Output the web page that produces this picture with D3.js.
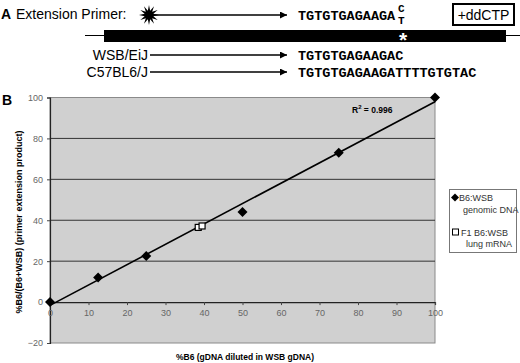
<!DOCTYPE html>
<html>
<head>
<meta charset="utf-8">
<script src="https://cdn.jsdelivr.net/npm/d3@7"></script>
<style>
  body { margin: 0; background: #fff; }
  svg { display: block; font-family: Arial, "Liberation Sans", sans-serif; }
</style>
</head>
<body>
<div id="chart"></div>
<script>
// panel B data
const genomicX = [0, 12.5, 25, 50, 75, 100];
const genomicY = [0, 12, 22.5, 44, 73, 100];
const mrnaX = [38.5, 39.5];
const mrnaY = [36.5, 37.2];
const xTicks = [0, 10, 20, 30, 40, 50, 60, 70, 80, 90, 100];
const yTicks = [-20, 0, 20, 40, 60, 80, 100];
const gridY = [20, 40, 60, 80];
const rSquared = "0.996";

// panel A sequences
const primerSeq = "TGTGTGAGAAGA";
const strainNames = ["WSB/EiJ", "C57BL6/J"];
const strainSeqs = ["TGTGTGAGAAGAC", "TGTGTGAGAAGATTTTGTGTAC"];

const width = 520, height = 363;
const svg = d3.select("#chart").append("svg")
    .attr("width", width).attr("height", height);

const defs = svg.append("defs");
defs.append("marker")
    .attr("id", "arrow")
    .attr("viewBox", "0 0 10 10")
    .attr("refX", 10).attr("refY", 5)
    .attr("markerWidth", 10).attr("markerHeight", 7)
    .attr("markerUnits", "userSpaceOnUse")
    .attr("orient", "auto")
    .append("path").attr("d", "M0,0L10,5L0,10Z").attr("fill", "#000");

// ---------- panel A ----------
const A = svg.append("g");
A.append("text").attr("x", 1).attr("y", 19).text("A")
    .style("font-weight", "bold").style("font-size", "14px");
A.append("text").attr("x", 16).attr("y", 19).text("Extension Primer:")
    .style("font-size", "14px");

// burst star (radial polygon, alternating radii)
const burst = d3.range(24).map(i => [i * Math.PI / 12, i % 2 ? 4.5 : 10]);
A.append("path")
    .attr("d", d3.lineRadial().curve(d3.curveLinearClosed)(burst))
    .attr("transform", "translate(149,15)").attr("fill", "#000");

A.append("line").attr("x1", 152).attr("x2", 287).attr("y1", 15).attr("y2", 15)
    .attr("stroke", "#000").attr("stroke-width", 1.6).attr("marker-end", "url(#arrow)");

const mono = "'Liberation Mono', 'DejaVu Sans Mono', monospace";
A.append("text").attr("x", 298).attr("y", 20).text(primerSeq)
    .style("font-family", mono).style("font-weight", "bold").style("font-size", "13.5px");
A.append("text").attr("x", 398).attr("y", 12).text("C")
    .style("font-family", mono).style("font-weight", "bold").style("font-size", "11px");
A.append("text").attr("x", 398).attr("y", 24).text("T")
    .style("font-family", mono).style("font-weight", "bold").style("font-size", "11px");

A.append("rect").attr("x", 453).attr("y", 4).attr("width", 61).attr("height", 21)
    .attr("fill", "#fff").attr("stroke", "#000").attr("stroke-width", 2);
A.append("text").attr("x", 483.5).attr("y", 20).attr("text-anchor", "middle")
    .text("+ddCTP").style("font-size", "14px");

// template strand
A.append("line").attr("x1", 85).attr("x2", 520).attr("y1", 35.5).attr("y2", 35.5)
    .attr("stroke", "#000").attr("stroke-width", 1.2);
A.append("rect").attr("x", 104).attr("y", 30).attr("width", 402).attr("height", 12).attr("fill", "#000");
A.append("text").attr("x", 403).attr("y", 46.5).attr("text-anchor", "middle").text("*")
    .attr("fill", "#fff").style("font-weight", "bold").style("font-size", "21px");

strainNames.forEach((name, i) => {
    const y = 55 + i * 17;
    A.append("text").attr("x", 148).attr("y", y + 5).attr("text-anchor", "end").text(name)
        .style("font-size", "14px");
    A.append("line").attr("x1", 150).attr("x2", 287).attr("y1", y).attr("y2", y)
        .attr("stroke", "#000").attr("stroke-width", 1.6).attr("marker-end", "url(#arrow)");
    A.append("text").attr("x", 298).attr("y", y + 5).text(strainSeqs[i])
        .style("font-family", mono).style("font-weight", "bold").style("font-size", "13.5px");
});

// ---------- panel B ----------
svg.append("text").attr("x", 2).attr("y", 105).text("B")
    .style("font-weight", "bold").style("font-size", "14px");

const x = d3.scaleLinear().domain([0, 100]).range([50, 435]);
const y = d3.scaleLinear().domain([-20, 100]).range([343, 97.5]);

const plot = svg.append("g");
plot.append("rect").attr("x", x(0)).attr("y", y(100))
    .attr("width", x(100) - x(0)).attr("height", y(-20) - y(100))
    .attr("fill", "#d0d0d0").attr("stroke", "#8a8a8a").attr("stroke-width", 1);

plot.selectAll(".grid").data(gridY).enter().append("line")
    .attr("x1", x(0)).attr("x2", x(100))
    .attr("y1", d => y(d)).attr("y2", d => y(d))
    .attr("stroke", "#333").attr("stroke-width", 1);

// y axis
const yAxis = plot.append("g").attr("transform", `translate(${x(0)},0)`)
    .call(d3.axisLeft(y).tickValues(yTicks).tickSize(3).tickPadding(4));
// x axis on y=0
const xAxis = plot.append("g").attr("transform", `translate(0,${y(0)})`)
    .call(d3.axisBottom(x).tickValues(xTicks).tickSize(3).tickPadding(5));
[yAxis, xAxis].forEach(g => {
    g.select(".domain").attr("stroke", "#222").attr("stroke-width", 1.2);
    g.selectAll(".tick line").attr("stroke", "#444");
    g.selectAll("text").attr("fill", "#666").style("font-size", "9px")
        .style("font-family", "Arial, 'Liberation Sans', sans-serif");
});

// trendline (least squares on genomic series)
const mx = d3.mean(genomicX), my = d3.mean(genomicY);
const slope = d3.sum(genomicX, (v, i) => (v - mx) * (genomicY[i] - my)) /
              d3.sum(genomicX, v => (v - mx) ** 2);
const icept = my - slope * mx;
plot.append("line")
    .attr("x1", x(0)).attr("y1", y(icept))
    .attr("x2", x(100)).attr("y2", y(icept + slope * 100))
    .attr("stroke", "#000").attr("stroke-width", 1.6);

// squarish diamond marker
const diamond = "M0,-5L5,0L0,5L-5,0Z";
plot.selectAll(".gen").data(genomicX).enter().append("path")
    .attr("d", diamond)
    .attr("transform", (d, i) => `translate(${x(d)},${y(genomicY[i])})`)
    .attr("fill", "#000");

plot.selectAll(".mrna").data(mrnaX).enter().append("rect")
    .attr("x", d => x(d) - 3).attr("y", (d, i) => y(mrnaY[i]) - 3)
    .attr("width", 6).attr("height", 6)
    .attr("fill", "#fff").attr("stroke", "#000").attr("stroke-width", 1.2);

const rt = plot.append("text").attr("x", 352).attr("y", 113)
    .style("font-size", "8.5px").style("font-weight", "bold");
rt.append("tspan").text("R");
rt.append("tspan").attr("dy", -4).style("font-size", "6px").text("2");
rt.append("tspan").attr("dy", 4).text(" = " + rSquared);

// axis titles
svg.append("text")
    .attr("transform", "translate(22,222) rotate(-90)")
    .attr("text-anchor", "middle")
    .style("font-size", "9px").style("font-weight", "bold")
    .text("%B6/(B6+WSB) (primer extension product)");
svg.append("text").attr("x", 245).attr("y", 360).attr("text-anchor", "middle")
    .style("font-size", "8.5px").style("font-weight", "bold")
    .text("%B6 (gDNA diluted in WSB gDNA)");

// legend
const leg = svg.append("g");
leg.append("rect").attr("x", 449.5).attr("y", 189.5).attr("width", 67).attr("height", 63)
    .attr("fill", "#fff").attr("stroke", "#777").attr("stroke-width", 1);
leg.append("path").attr("d", diamond).attr("transform", "translate(455,197.5) scale(0.8)").attr("fill", "#000");
leg.append("text").attr("x", 459).attr("y", 201).text("B6:WSB").style("font-size", "9px").attr("fill", "#333");
leg.append("text").attr("x", 463).attr("y", 213).text("genomic DNA").style("font-size", "9px").attr("fill", "#333");
leg.append("rect").attr("x", 452.5).attr("y", 229).attr("width", 6).attr("height", 6)
    .attr("fill", "#fff").attr("stroke", "#000").attr("stroke-width", 1);
leg.append("text").attr("x", 461).attr("y", 235.5).text("F1 B6:WSB").style("font-size", "9px").attr("fill", "#333");
leg.append("text").attr("x", 466).attr("y", 247).text("lung mRNA").style("font-size", "9px").attr("fill", "#333");
</script>
</body>
</html>
